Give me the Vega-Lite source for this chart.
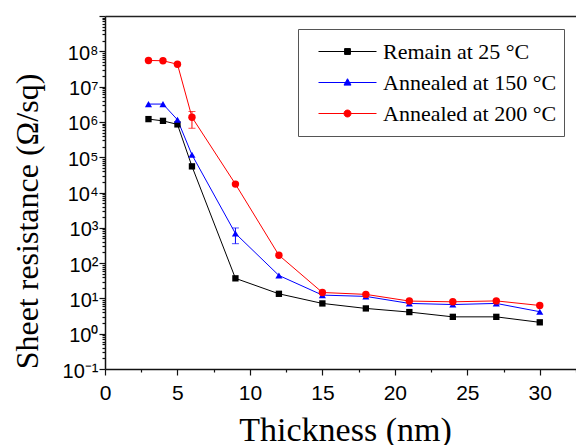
{
  "$schema": "https://vega.github.io/schema/vega-lite/v6.json",
  "width": 471,
  "height": 353,
  "autosize": {"type": "none"},
  "padding": {"left": 105, "top": 16, "right": 0, "bottom": 76},
  "background": "white",
  "config": {
    "view": {"stroke": null},
    "axis": {
      "grid": false,
      "domainColor": "#111",
      "domainWidth": 1.5,
      "tickColor": "#111",
      "tickWidth": 1.2,
      "labelColor": "black",
      "titleColor": "black",
      "labelFont": "Liberation Sans",
      "titleFont": "Liberation Serif",
      "titleFontWeight": "normal",
      "labelOverlap": false,
      "labelFlush": false
    }
  },
  "datasets": {
    "main": [
      {"t": 3, "r": 1200000, "s": "Remain at 25 °C"},
      {"t": 4, "r": 1070000, "s": "Remain at 25 °C"},
      {"t": 5, "r": 850000, "s": "Remain at 25 °C"},
      {"t": 6, "r": 55000, "s": "Remain at 25 °C"},
      {"t": 9, "r": 37, "s": "Remain at 25 °C"},
      {"t": 12, "r": 13.5, "s": "Remain at 25 °C"},
      {"t": 15, "r": 7.2, "s": "Remain at 25 °C"},
      {"t": 18, "r": 5.2, "s": "Remain at 25 °C"},
      {"t": 21, "r": 4.1, "s": "Remain at 25 °C"},
      {"t": 24, "r": 3.0, "s": "Remain at 25 °C"},
      {"t": 27, "r": 3.0, "s": "Remain at 25 °C"},
      {"t": 30, "r": 2.1, "s": "Remain at 25 °C"},
      {"t": 3, "r": 3200000, "s": "Annealed at 150 °C"},
      {"t": 4, "r": 3200000, "s": "Annealed at 150 °C"},
      {"t": 5, "r": 1150000, "s": "Annealed at 150 °C"},
      {"t": 6, "r": 117000, "s": "Annealed at 150 °C"},
      {"t": 9, "r": 690, "s": "Annealed at 150 °C"},
      {"t": 12, "r": 44.6, "s": "Annealed at 150 °C"},
      {"t": 15, "r": 12.4, "s": "Annealed at 150 °C"},
      {"t": 18, "r": 11.4, "s": "Annealed at 150 °C"},
      {"t": 21, "r": 7.2, "s": "Annealed at 150 °C"},
      {"t": 24, "r": 6.7, "s": "Annealed at 150 °C"},
      {"t": 27, "r": 7.2, "s": "Annealed at 150 °C"},
      {"t": 30, "r": 4.2, "s": "Annealed at 150 °C"},
      {"t": 3, "r": 55000000, "s": "Annealed at 200 °C"},
      {"t": 4, "r": 54000000, "s": "Annealed at 200 °C"},
      {"t": 5, "r": 43000000, "s": "Annealed at 200 °C"},
      {"t": 6, "r": 1360000, "s": "Annealed at 200 °C"},
      {"t": 9, "r": 17300, "s": "Annealed at 200 °C"},
      {"t": 12, "r": 167, "s": "Annealed at 200 °C"},
      {"t": 15, "r": 14.7, "s": "Annealed at 200 °C"},
      {"t": 18, "r": 13, "s": "Annealed at 200 °C"},
      {"t": 21, "r": 8.4, "s": "Annealed at 200 °C"},
      {"t": 24, "r": 8.0, "s": "Annealed at 200 °C"},
      {"t": 27, "r": 8.5, "s": "Annealed at 200 °C"},
      {"t": 30, "r": 6.3, "s": "Annealed at 200 °C"}
    ],
    "err": [
      {"t": 6, "lo": 660000, "hi": 1970000, "s": "Annealed at 200 °C"},
      {"t": 9, "lo": 355, "hi": 990, "s": "Annealed at 150 °C"}
    ]
  },
  "layer": [
    {
      "data": {"name": "main"},
      "mark": {"type": "line", "strokeWidth": 1},
      "encoding": {
        "x": {
          "field": "t", "type": "quantitative",
          "scale": {"domain": [0, 32.5], "nice": false, "zero": false},
          "axis": {
            "orient": "bottom",
            "values": [0, 2.5, 5, 7.5, 10, 12.5, 15, 17.5, 20, 22.5, 25, 27.5, 30, 32.5],
            "labelExpr": "datum.value % 5 === 0 ? datum.label : ''",
            "tickSize": {"condition": {"test": "datum.value % 5 === 0", "value": 6}, "value": 3},
            "labelFontSize": 21,
            "labelBaseline": "alphabetic",
            "labelPadding": 24,
            "title": "Thickness (nm)",
            "titleFontSize": 34,
            "titleX": 240,
            "titleY": 71,
            "titleAlign": "center",
            "titleBaseline": "alphabetic"
          }
        },
        "y": {
          "field": "r", "type": "quantitative",
          "title": "Sheet resistance (Ω/sq)",
          "scale": {"type": "log", "domain": [0.1, 1000000000], "nice": false},
          "axis": {
            "orient": "left",
            "values": [0.1, 0.2, 0.3, 0.4, 0.5, 0.6, 0.7, 0.8, 0.9, 1, 2, 3, 4, 5, 6, 7, 8, 9, 10, 20, 30, 40, 50, 60, 70, 80, 90, 100, 200, 300, 400, 500, 600, 700, 800, 900, 1000, 2000, 3000, 4000, 5000, 6000, 7000, 8000, 9000, 10000, 20000, 30000, 40000, 50000, 60000, 70000, 80000, 90000, 100000, 200000, 300000, 400000, 500000, 600000, 700000, 800000, 900000, 1000000, 2000000, 3000000, 4000000, 5000000, 6000000, 7000000, 8000000, 9000000, 10000000, 20000000, 30000000, 40000000, 50000000, 60000000, 70000000, 80000000, 90000000, 100000000, 200000000, 300000000, 400000000, 500000000, 600000000, 700000000, 800000000, 900000000, 1000000000],
            "labelExpr": "abs(log(datum.value)/LN10 - round(log(datum.value)/LN10)) < 0.001 && datum.value < 500000000 ? '10' + (round(log(datum.value)/LN10) < 0 ? '⁻¹' : substring('⁰¹²³⁴⁵⁶⁷⁸⁹', round(log(datum.value)/LN10), round(log(datum.value)/LN10) + 1)) : ''",
            "tickSize": {"condition": {"test": "abs(log(datum.value)/LN10 - round(log(datum.value)/LN10)) < 0.001", "value": 6}, "value": 3},
            "labelFontSize": 20,
            "labelPadding": 1,
            "labelBaseline": "middle",
            "labelOffset": 2,
            "titleFontSize": 32,
            "titleX": -68,
            "titleY": 205,
            "titleAngle": -90,
            "titleAlign": "center",
            "titleBaseline": "alphabetic"
          }
        },
        "color": {
          "field": "s", "type": "nominal",
          "scale": {"domain": ["Remain at 25 °C", "Annealed at 150 °C", "Annealed at 200 °C"], "range": ["#000000", "#0000ff", "#ff0000"]},
          "legend": {
            "title": null,
            "orient": "none",
            "legendX": 193,
            "legendY": 13,
            "padding": 7,
            "strokeColor": "#555",
            "fillColor": "white",
            "symbolSize": 3364,
            "symbolOffset": 13,
            "symbolStrokeWidth": 1,
            "clipHeight": 31,
            "rowPadding": 0,
            "labelOffset": 6,
            "labelFont": "Liberation Serif",
            "labelFontSize": 22,
            "labelColor": "black",
            "labelLimit": 300,
            "encode": {
              "symbols": {
                "update": {
                  "shape": {"signal": "datum.value === 'Remain at 25 °C' ? 'M-1,0H1M-0.1,-0.1H0.1V0.1H-0.1Z' : datum.value === 'Annealed at 150 °C' ? 'M-1,0H1M0,-0.13L0.12,0.09H-0.12Z' : 'M-1,0H1M-0.12,0A0.12,0.12,0,1,1,0.12,0A0.12,0.12,0,1,1,-0.12,0Z'"},
                  "size": {"value": 3364},
                  "fill": {"signal": "scale('color', datum.value)"},
                  "stroke": {"signal": "scale('color', datum.value)"},
                  "strokeWidth": {"value": 1}
                }
              }
            }
          }
        }
      }
    },
    {
      "data": {"name": "main"},
      "transform": [{"filter": "datum.s === 'Remain at 25 °C'"}],
      "mark": {"type": "point", "filled": true, "opacity": 1, "size": 40, "shape": "square", "color": "#000000"},
      "encoding": {
        "x": {
          "field": "t", "type": "quantitative",
          "axis": {"orient": "top", "labels": false, "ticks": false, "title": null, "domainColor": "#222", "domainWidth": 1.5}
        },
        "y": {"field": "r", "type": "quantitative", "title": "Sheet resistance (Ω/sq)"}
      }
    },
    {
      "data": {"name": "main"},
      "transform": [{"filter": "datum.s === 'Annealed at 150 °C'"}],
      "mark": {"type": "point", "filled": true, "opacity": 1, "size": 50, "shape": "triangle-up", "color": "#0000ff"},
      "encoding": {
        "x": {"field": "t", "type": "quantitative", "axis": null},
        "y": {"field": "r", "type": "quantitative", "title": "Sheet resistance (Ω/sq)"}
      }
    },
    {
      "data": {"name": "main"},
      "transform": [{"filter": "datum.s === 'Annealed at 200 °C'"}],
      "mark": {"type": "point", "filled": true, "opacity": 1, "size": 55, "shape": "circle", "color": "#ff0000"},
      "encoding": {
        "x": {"field": "t", "type": "quantitative", "axis": null},
        "y": {"field": "r", "type": "quantitative", "title": "Sheet resistance (Ω/sq)"}
      }
    },
    {
      "data": {"name": "err"},
      "mark": {"type": "errorbar", "ticks": {"size": 7}},
      "encoding": {
        "x": {"field": "t", "type": "quantitative", "axis": null},
        "y": {"field": "lo", "type": "quantitative", "title": "Sheet resistance (Ω/sq)"},
        "y2": {"field": "hi"},
        "color": {"field": "s", "type": "nominal", "legend": null}
      }
    }
  ],
  "resolve": {"axis": {"x": "independent"}}
}
